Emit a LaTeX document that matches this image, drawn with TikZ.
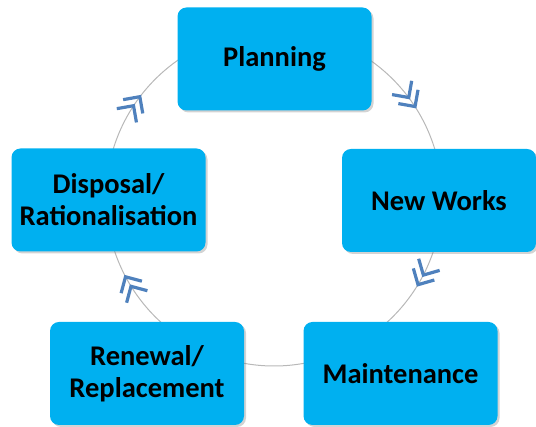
\documentclass[tikz,border=0pt]{standalone}
\usepackage{fontspec}
\setmainfont{Carlito}
\usetikzlibrary{shadows,calc}
\definecolor{boxcyan}{HTML}{00B0F0}
\definecolor{chevblue}{HTML}{4F81BD}
\definecolor{ringgray}{HTML}{B8B8B8}
\tikzset{
  stagebox/.style={rounded corners=9pt, fill=boxcyan, minimum width=194pt, minimum height=103pt,
    align=center, font=\fontsize{28.5}{32}\selectfont\bfseries, text=black,
    drop shadow={shadow xshift=2pt, shadow yshift=-2pt, opacity=0.35}},
  ring/.style={draw=ringgray, line width=1pt},
  chevline/.style={draw=chevblue, line width=3.2pt},
  pics/chev/.style={code={
    \draw[chevline] (-12+6,12) -- (6,0) -- (-12+6,-12);
    \draw[chevline] (-12-5,12) -- (-5,0) -- (-12-5,-12);
  }}
}
\begin{document}
\begin{tikzpicture}[x=1pt,y=1pt]
\useasboundingbox (0,0) rectangle (536,427);
\coordinate (ctr) at (274,229);
\draw[ring] (ctr) circle (168);
\node[stagebox] (plan) at (274.5,368) {Planning};
\node[stagebox] (new) at (439,226.5) {New Works};
\node[stagebox] (maint) at (400.5,53.5) {Maintenance};
\node[stagebox] (renew) at (147,53.5) {Renewal/\\Replacement};
\node[stagebox] (disp) at (108.5,227) {Disposal/\\Rationalisation};
\foreach \a in {145,35,-29,-150}{
  \pic[rotate=\a-90] at ($(ctr)+(\a:168)$) {chev};
}
\end{tikzpicture}
\end{document}
